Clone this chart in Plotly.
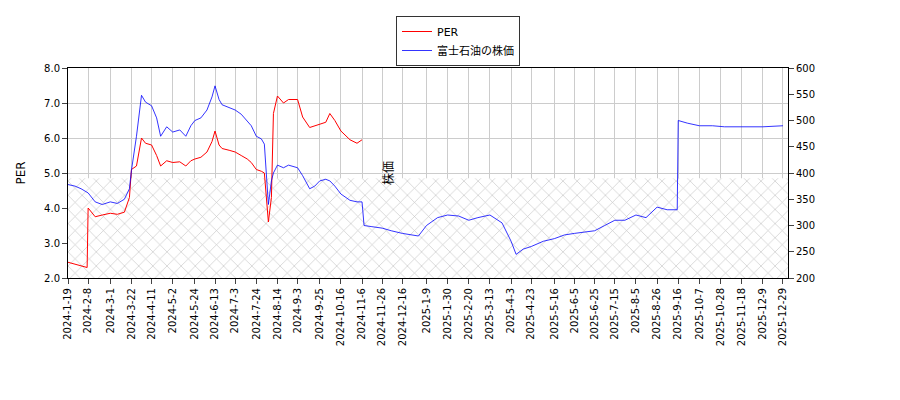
import plotly.graph_objects as go

price_dates = ["2024-01-19","2024-01-26","2024-02-01","2024-02-08","2024-02-15","2024-02-22","2024-03-01","2024-03-08","2024-03-15","2024-03-20","2024-03-22","2024-03-27","2024-04-01","2024-04-05","2024-04-11","2024-04-16","2024-04-20","2024-04-26","2024-05-02","2024-05-09","2024-05-15","2024-05-20","2024-05-24","2024-05-30","2024-06-05","2024-06-10","2024-06-13","2024-06-17","2024-06-20","2024-06-27","2024-07-03","2024-07-09","2024-07-15","2024-07-19","2024-07-24","2024-07-29","2024-08-01","2024-08-05","2024-08-08","2024-08-10","2024-08-14","2024-08-20","2024-08-25","2024-09-03","2024-09-08","2024-09-15","2024-09-20","2024-09-25","2024-10-01","2024-10-05","2024-10-10","2024-10-16","2024-10-25","2024-11-01","2024-11-06","2024-11-08","2024-11-15","2024-11-26","2024-12-05","2024-12-16","2025-01-01","2025-01-09","2025-01-20","2025-01-30","2025-02-10","2025-02-20","2025-03-01","2025-03-13","2025-03-25","2025-04-03","2025-04-08","2025-04-15","2025-04-23","2025-05-05","2025-05-16","2025-05-26","2025-06-05","2025-06-15","2025-06-25","2025-07-05","2025-07-15","2025-07-25","2025-08-05","2025-08-15","2025-08-26","2025-09-05","2025-09-15","2025-09-16","2025-09-25","2025-10-07","2025-10-20","2025-11-01","2025-11-18","2025-12-09","2025-12-29"]
price_values = [378,375,370,362,345,340,345,342,350,370,405,470,548,535,528,505,470,488,478,482,470,490,500,505,520,545,566,540,530,525,520,512,500,490,470,465,455,340,385,400,415,410,415,410,395,370,375,385,388,385,375,360,348,345,345,300,298,295,290,285,280,300,315,320,318,310,315,320,305,270,245,255,260,270,275,282,285,288,290,300,310,310,320,315,335,330,330,500,495,490,490,488,488,488,490]

per_dates = ["2024-01-19","2024-01-26","2024-02-01","2024-02-07","2024-02-08","2024-02-15","2024-02-22","2024-03-01","2024-03-08","2024-03-15","2024-03-20","2024-03-22","2024-03-27","2024-04-01","2024-04-05","2024-04-11","2024-04-16","2024-04-20","2024-04-26","2024-05-02","2024-05-09","2024-05-15","2024-05-20","2024-05-24","2024-05-30","2024-06-05","2024-06-10","2024-06-13","2024-06-17","2024-06-20","2024-06-27","2024-07-03","2024-07-09","2024-07-15","2024-07-19","2024-07-24","2024-07-29","2024-08-01","2024-08-05","2024-08-08","2024-08-10","2024-08-14","2024-08-20","2024-08-25","2024-09-03","2024-09-08","2024-09-15","2024-09-20","2024-09-25","2024-10-01","2024-10-05","2024-10-10","2024-10-16","2024-10-25","2024-11-01","2024-11-06"]
per_values = [2.45,2.4,2.35,2.3,4.0,3.75,3.8,3.85,3.82,3.88,4.3,5.1,5.2,6.0,5.85,5.8,5.5,5.2,5.35,5.3,5.32,5.2,5.35,5.4,5.45,5.6,5.9,6.2,5.8,5.7,5.65,5.6,5.5,5.4,5.3,5.1,5.05,5.0,3.6,4.3,6.7,7.2,7.0,7.1,7.1,6.6,6.3,6.35,6.4,6.45,6.7,6.5,6.2,5.95,5.85,5.95]

tick_labels = ["2024-1-19","2024-2-8","2024-3-1","2024-3-22","2024-4-11","2024-5-2","2024-5-24","2024-6-13","2024-7-3","2024-7-24","2024-8-14","2024-9-3","2024-9-25","2024-10-16","2024-11-6","2024-11-26","2024-12-16","2025-1-9","2025-1-30","2025-2-20","2025-3-13","2025-4-3","2025-4-23","2025-5-16","2025-6-5","2025-6-25","2025-7-15","2025-8-5","2025-8-26","2025-9-16","2025-10-7","2025-10-28","2025-11-18","2025-12-9","2025-12-29"]
tick_vals = ["-".join(p.zfill(2) for p in t.split("-")) for t in tick_labels]

hatch_top = 4.85
fig = go.Figure()
fig.add_trace(go.Scatter(x=["2024-01-01", "2026-02-01"], y=[hatch_top, hatch_top], mode="lines",
                         line=dict(width=0), fill="tozeroy", fillcolor="rgba(0,0,0,0)",
                         fillpattern=dict(shape="x", fgcolor="#888", bgcolor="white", size=10, solidity=0.12),
                         showlegend=False, hoverinfo="skip"))
fig.add_trace(go.Scatter(x=per_dates, y=per_values, mode="lines", name="PER", line=dict(color="red", width=1)))
fig.add_trace(go.Scatter(x=price_dates, y=price_values, mode="lines", name="富士石油の株価",
                         line=dict(color="blue", width=0.8), yaxis="y2"))

font = "DejaVu Sans, Noto Sans CJK JP"
fig.update_layout(
    width=900, height=400, margin=dict(l=60, r=120, t=60, b=130, autoexpand=False),
    plot_bgcolor="white", paper_bgcolor="white", font=dict(family=font, size=10, color="black"),
    legend=dict(x=0.5, y=0.98, xref="container", yref="container", xanchor="center", yanchor="top",
                bordercolor="#333", borderwidth=1, font=dict(size=11)),
    xaxis=dict(range=["2024-01-19", "2026-01-03"], tickvals=tick_vals, ticktext=tick_labels, tickangle=-90,
               showgrid=True, gridcolor="#ccc", showline=True, linecolor="black", mirror=True, ticks="outside",
               automargin=False),
    yaxis=dict(title="PER", range=[2, 8], dtick=1, tickformat=".1f", showgrid=True, gridcolor="#ccc",
               showline=True, linecolor="black", ticks="outside", automargin=False),
    yaxis2=dict(title="株価", range=[200, 600], dtick=50, overlaying="y", side="right", showgrid=False,
                showline=True, linecolor="black", ticks="outside", automargin=False),
)
fig.write_html("out.html")
